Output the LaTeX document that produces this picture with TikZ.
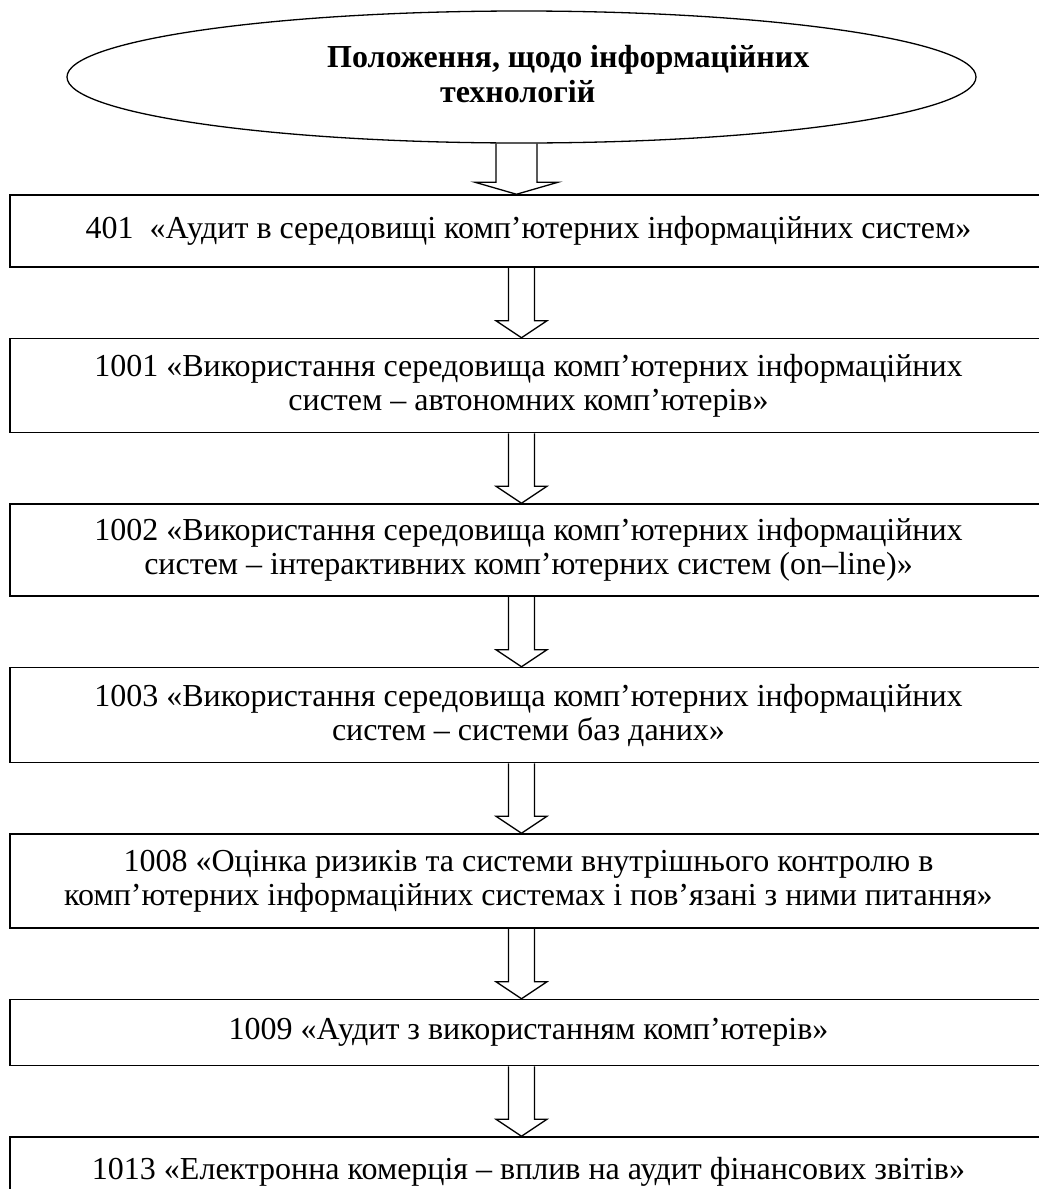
\documentclass[tikz,border=0pt]{standalone}
\usepackage{fontspec}
\setmainfont{Liberation Serif}
\usetikzlibrary{shapes.geometric, positioning, calc}
\tikzstyle{topic} = [ellipse, draw=black, line width=1.3pt, minimum width=909pt, minimum height=132pt, inner sep=0pt]
\tikzstyle{topictext} = [align=left, inner sep=0pt, font=\fontsize{32}{35}\selectfont\bfseries]
\tikzstyle{standard} = [rectangle, minimum width=1037pt, minimum height=66pt, text centered, align=center, draw=black, line width=1.5pt, font=\fontsize{32}{34}\selectfont]
\tikzstyle{flow} = [draw=black, line width=1.3pt, line join=miter]

\newcommand{\flowarrow}[6]{%
  \draw[flow] let \p1=(#1.south), \p2=(#2.north) in
    (#3pt-#4pt,\y1) -- (#3pt-#4pt,\y2+#6pt) -- (#3pt-#5pt,\y2+#6pt) -- (#3pt,\y2)
    -- (#3pt+#5pt,\y2+#6pt) -- (#3pt+#4pt,\y2+#6pt) -- (#3pt+#4pt,\y1);}

\begin{document}
\begin{tikzpicture}[x=1pt, y=1pt, node distance=70pt]
\clip (0,0) rectangle (1039,-1189);

% Topic
\node (topic) [topic] at (521.5,-77) {};
\node (topic-title) [topictext, anchor=north west] at (327,-45) {Положення, щодо інформаційних\\\hspace*{113pt}технологій};

% Standards
\node (isa401) [standard, minimum height=72pt] at (528.5,-231) {401\ \ «Аудит в середовищі комп’ютерних інформаційних систем»};
\node (isa1001) [standard, minimum height=94pt, below=of isa401] {1001 «Використання середовища комп’ютерних інформаційних\\систем – автономних комп’ютерів»};
\node (isa1002) [standard, minimum height=92pt, below=of isa1001] {1002 «Використання середовища комп’ютерних інформаційних\\систем – інтерактивних комп’ютерних систем (on–line)»};
\node (isa1003) [standard, minimum height=95pt, below=of isa1002] {1003 «Використання середовища комп’ютерних інформаційних\\систем – системи баз даних»};
\node (isa1008) [standard, minimum height=94pt, below=of isa1003] {1008 «Оцінка ризиків та системи внутрішнього контролю в\\комп’ютерних інформаційних системах і пов’язані з ними питання»};
\node (isa1009) [standard, below=of isa1008] {1009 «Аудит з використанням комп’ютерів»};
\node (isa1013) [standard, minimum height=70pt, below=of isa1009] {1013 «Електронна комерція – вплив на аудит фінансових звітів»};

% Arrows
\flowarrow{topic}{isa401}{516.5}{20.5}{41.5}{12}
\flowarrow{isa401}{isa1001}{521.5}{13}{25.5}{17}
\flowarrow{isa1001}{isa1002}{521.5}{13}{25.5}{17}
\flowarrow{isa1002}{isa1003}{521.5}{13}{25.5}{17}
\flowarrow{isa1003}{isa1008}{521.5}{13}{25.5}{17}
\flowarrow{isa1008}{isa1009}{521.5}{13}{25.5}{17}
\flowarrow{isa1009}{isa1013}{521.5}{13}{25.5}{17}

\end{tikzpicture}
\end{document}
